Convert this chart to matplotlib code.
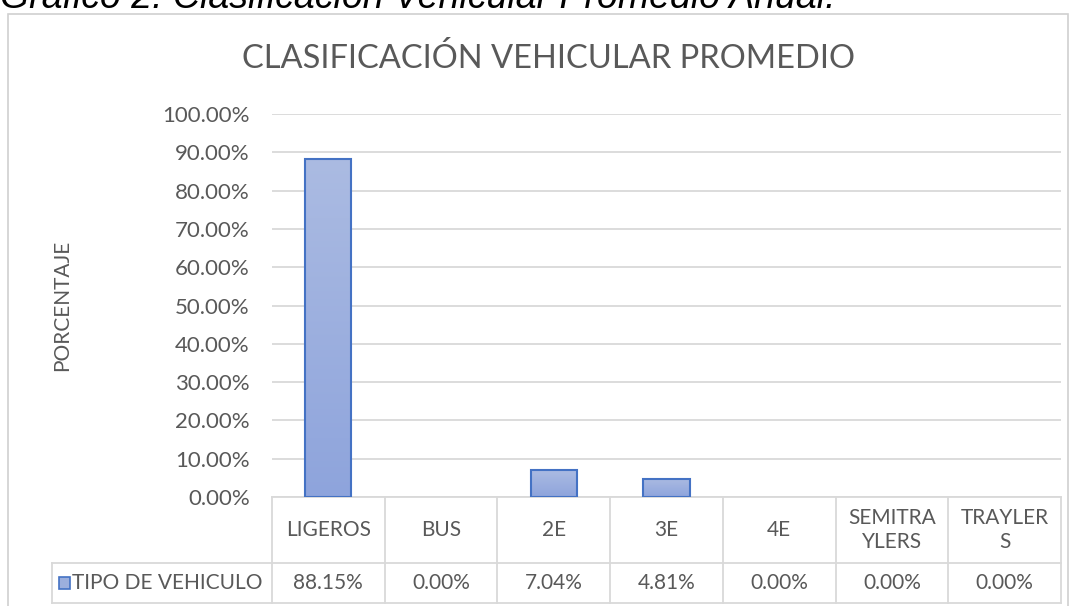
import numpy as np
import matplotlib.pyplot as plt
from matplotlib.patches import Rectangle
from matplotlib.colors import LinearSegmentedColormap
import matplotlib.transforms as mtransforms

# data
categories = ['LIGEROS', 'BUS', '2E', '3E', '4E', 'SEMITRA\nYLERS', 'TRAYLER\nS']
values = [88.15, 0.00, 7.04, 4.81, 0.00, 0.00, 0.00]
series_name = 'TIPO DE VEHICULO'
y_ticks = [0, 10, 20, 30, 40, 50, 60, 70, 80, 90, 100]

plt.rcParams['font.family'] = ['Lato', 'DejaVu Sans']
txt = '#595959'
grid_c = '#d9d9d9'
edge_c = '#4472c4'

W, H = 1076, 606
fig = plt.figure(figsize=(W / 100, H / 100), dpi=100)

def fx(px):
    return px / W

def fy(py):
    return 1 - py / H

# outer chart border (bottom cut off)
fig.patches.append(Rectangle((fx(8), fy(640)), fx(1068) - fx(8), fy(14) - fy(640),
                             transform=fig.transFigure, fill=False,
                             edgecolor='#d0d0d0', lw=1.2))

# caption above the chart, cut at the top like in the source
fig.text(fx(0), fy(8), 'Gráfico 2: Clasificación Vehicular Promedio Anual.',
         family=['Liberation Sans', 'DejaVu Sans'], style='italic',
         fontsize=27, color='black', ha='left', va='baseline')

left, right, top, bottom = 272, 1061, 114, 497
ax = fig.add_axes([fx(left), fy(bottom), fx(right) - fx(left), fy(top) - fy(bottom)])

x = np.arange(len(categories))
bars = ax.bar(x, values, width=0.41, color='#9cafdd', edgecolor='none', lw=0, zorder=3)

# vertical gradient inside each bar
grad = np.linspace(0, 1, 256).reshape(-1, 1)
cmap = LinearSegmentedColormap.from_list('g', ['#8ea4dc', '#abbbe2'])
for b in bars:
    h = b.get_height()
    if h <= 0:
        continue
    im = ax.imshow(grad, extent=[b.get_x(), b.get_x() + b.get_width(), 0, h],
                   origin='lower', aspect='auto', cmap=cmap, zorder=3.5)
    im.set_clip_path(b)
    ax.add_patch(Rectangle((b.get_x(), 0), b.get_width(), h, fill=False,
                           edgecolor=edge_c, lw=1.5, zorder=4))

ax.set_xlim(-0.5, len(categories) - 0.5)
ax.set_ylim(0, 100)
ax.set_yticks(y_ticks)
ax.set_yticklabels([f'{v:.2f}%' for v in y_ticks], color=txt, fontsize=16)
ax.tick_params(axis='y', length=0, pad=16)
ax.set_xticks([])
ax.grid(axis='y', color=grid_c, lw=1.3, zorder=0)
for s in ax.spines.values():
    s.set_visible(False)
ax.set_facecolor('none')

fig.text(fx(62), fy(305), 'PORCENTAJE', rotation=90, color=txt, fontsize=15,
         ha='center', va='center')
fig.text(fx(549), fy(58), 'CLASIFICACIÓN VEHICULAR PROMEDIO', color=txt,
         fontsize=23.5, ha='center', va='center')

# data table under the plot
def ay(py):
    return (bottom - py) / (bottom - top)

row1, row2 = ay(563), ay(603)
trans = mtransforms.blended_transform_factory(ax.transData, ax.transAxes)
lk = dict(color=grid_c, lw=1.3, clip_on=False)
ax.plot([-0.5, len(categories) - 0.5], [0, 0], transform=trans, **lk)
leg_left = (52 - left) / (right - left)
ax.plot([leg_left, 1], [row1, row1], transform=ax.transAxes, **lk)
ax.plot([leg_left, 1], [row2, row2], transform=ax.transAxes, **lk)
ax.plot([leg_left, leg_left], [row1, row2], transform=ax.transAxes, **lk)
for i in range(len(categories) + 1):
    ax.plot([i - 0.5, i - 0.5], [0, row2], transform=trans, **lk)

for i, (c, v) in enumerate(zip(categories, values)):
    ax.text(i, ay(530), c, transform=trans, ha='center', va='center',
            color=txt, fontsize=15, linespacing=1.2)
    ax.text(i, ay(583), f'{v:.2f}%', transform=trans, ha='center', va='center',
            color=txt, fontsize=15)

fig.patches.append(Rectangle((fx(59), fy(589)), fx(11), fy(577) - fy(589),
                             transform=fig.transFigure, facecolor='#9cafdd',
                             edgecolor=edge_c, lw=1.2))
fig.text(fx(72), fy(583), series_name, color=txt, fontsize=15, ha='left', va='center')

fig.savefig('out.png', dpi=100)
